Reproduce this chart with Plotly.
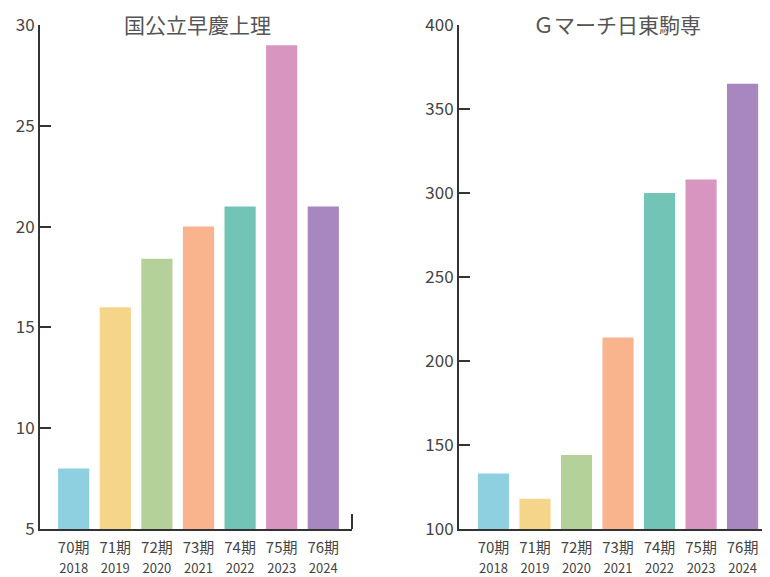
import plotly.graph_objects as go

periods = ["70期", "71期", "72期", "73期", "74期", "75期", "76期"]
years = ["2018", "2019", "2020", "2021", "2022", "2023", "2024"]
left_values = [8, 16, 18.4, 20, 21, 29, 21]
right_values = [133, 118, 144, 214, 300, 308, 365]
bar_colors = ["#8ECFE0", "#F5D58A", "#B5D19A", "#F9B48E", "#72C4B6", "#D795C0", "#A886BF"]
left_title = "国公立早慶上理"
right_title = "Ｇマーチ日東駒専"

# page body has an 8px margin; figure sized to fill the rest of the window
OFF = 8
W, H = 770 - OFF, 577 - OFF
FONT = "Noto Sans CJK JP"
labels = [f"{p}<br><span style='font-size:13px'>{y}</span>" for p, y in zip(periods, years)]
xs = list(range(len(periods)))

fig = go.Figure()
fig.add_trace(go.Bar(x=xs, y=left_values, marker=dict(color=bar_colors, line=dict(width=0)),
                     xaxis="x", yaxis="y", showlegend=False, hoverinfo="y"))
fig.add_trace(go.Bar(x=xs, y=right_values, marker=dict(color=bar_colors, line=dict(width=0)),
                     xaxis="x2", yaxis="y2", showlegend=False, hoverinfo="y"))

def px_x(p):
    return (p - OFF) / W

def px_y(p):
    return 1 - (p - OFF) / H

axis_common = dict(showgrid=False, zeroline=False, showline=True, linecolor="#333333", linewidth=2,
                   automargin=False, tickfont=dict(family=FONT, size=17, color="#444444"))
xfont = dict(family=FONT, size=15, color="#444444")

fig.update_layout(
    width=W, height=H,
    margin=dict(l=0, r=0, t=0, b=0, pad=0),
    paper_bgcolor="white", plot_bgcolor="white",
    bargap=0.25,
    font=dict(family=FONT, color="#444444"),
    xaxis=dict(domain=[px_x(40), px_x(352)], anchor="y", range=[-0.81, 6.69],
               tickmode="array", tickvals=xs, ticktext=labels, ticks="", ticklabelstandoff=4,
               **{**axis_common, "tickfont": xfont}),
    yaxis=dict(domain=[px_y(529), px_y(25)], anchor="x", range=[5, 30],
               tickvals=[5, 10, 15, 20, 25, 30], ticks="inside", ticklen=11, tickwidth=2,
               tickcolor="#333333", **axis_common),
    xaxis2=dict(domain=[px_x(459), 1.0], anchor="y2", range=[-0.83, 6.66],
                tickmode="array", tickvals=xs, ticktext=labels, ticks="", ticklabelstandoff=4,
                **{**axis_common, "tickfont": xfont}),
    yaxis2=dict(domain=[px_y(529), px_y(25)], anchor="x2", range=[100, 400],
                tickvals=[100, 150, 200, 250, 300, 350, 400], ticks="inside", ticklen=11, tickwidth=2,
                tickcolor="#333333", **axis_common),
    annotations=[
        dict(text=left_title, x=px_x(197), y=px_y(24), xref="paper", yref="paper",
             showarrow=False, font=dict(family=FONT, size=21, color="#555555"), xanchor="center", yanchor="middle"),
        dict(text=right_title, x=px_x(617), y=px_y(24), xref="paper", yref="paper",
             showarrow=False, font=dict(family=FONT, size=21, color="#555555"), xanchor="center", yanchor="middle"),
    ],
    shapes=[
        dict(type="line", xref="paper", yref="paper", x0=px_x(352), x1=px_x(352),
             y0=px_y(529), y1=px_y(514), line=dict(color="#333333", width=2)),
    ],
)

fig.write_html("out.html")
